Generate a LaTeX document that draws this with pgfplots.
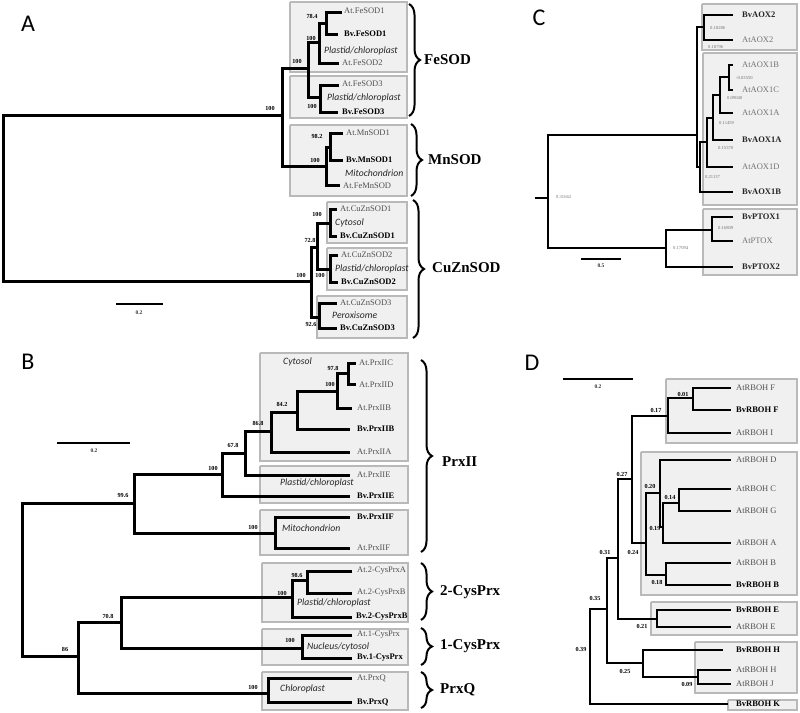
\documentclass[border=0pt]{standalone}
\usepackage{pgfplots}
\pgfplotsset{compat=1.18}
\usepackage{fontspec}
\setmainfont{Liberation Serif}
\newfontfamily\calfont{Carlito}
\usetikzlibrary{decorations.pathreplacing}
\definecolor{boxfill}{RGB}{240,240,240}
\definecolor{boxdraw}{RGB}{185,185,185}
\definecolor{leafgray}{RGB}{80,80,80}
\definecolor{cgray}{RGB}{115,115,115}

\tikzset{
  brA/.style={black, line width=3pt, mark=none},
  brC/.style={black, line width=2.3pt, mark=none},
  brD/.style={black, line width=2.8pt, mark=none},
  boxst/.style={fill=boxfill, draw=boxdraw, line width=1.3pt, mark=none},
  atl/.style={anchor=west, inner sep=0pt, text=leafgray, font=\fontsize{8.5}{9}\selectfont},
  bvl/.style={anchor=west, inner sep=0pt, text=black, font=\fontsize{8.5}{9}\selectfont\bfseries},
  itl/.style={anchor=west, inner sep=0pt, text=black!85, font=\calfont\itshape\fontsize{9.7}{10}\selectfont},
  bsl/.style={inner sep=0pt, text=black, font=\fontsize{6.2}{7}\selectfont\bfseries},
  csl/.style={anchor=west, inner sep=0pt, text=cgray, font=\fontsize{4.6}{5}\selectfont},
  scl/.style={inner sep=0pt, text=black!80, font=\fontsize{5.5}{6}\selectfont\bfseries},
  grp/.style={anchor=west, inner sep=0pt, font=\fontsize{15}{16}\selectfont\bfseries},
  pan/.style={inner sep=0pt, font=\calfont\fontsize{24}{25}\selectfont},
  brc/.style={decorate, decoration={brace, amplitude=11pt}, line width=2pt, black},
}

% one internal node: \nd[style]{x}{y top}{x top child}{y bottom}{x bottom child}
\newcommand{\nd}[6][brA]{\addplot[#1] coordinates {(#4,#3) (#2,#3) (#2,#5) (#6,#5)};}
\newcommand{\bx}[4]{\addplot[boxst] coordinates {(#1,#2) (#3,#2) (#3,#4) (#1,#4) (#1,#2)};}

\begin{document}
\begin{tikzpicture}
\begin{axis}[
  width=800pt, height=712pt, scale only axis,
  xmin=0, xmax=800, ymin=0, ymax=712, y dir=reverse,
  hide axis, clip=false,
]
\path (0,0) rectangle (800,712);

% ---------------- A ----------------
\bx{290}{2}{407}{72}
\bx{290}{76}{407}{118}
\bx{290}{125}{407}{196}
\bx{327}{202}{407}{243}
\bx{327}{248}{407}{290}
\bx{317}{296}{407}{338}

\nd{3}{115}{282}{281}{311}
\nd{282}{68}{308}{166}{326}
\nd{308}{42}{319}{97}{320}
\nd{319}{23}{326}{63}{339}
\nd{326}{12}{342}{34}{338}
\nd{320}{85}{339}{112}{338}
\nd{326}{147}{330}{185}{340}
\nd{330}{133}{343}{160}{343}
\nd{311}{247}{317}{317}{319}
\nd{317}{223}{330}{269}{330}
\nd{330}{209}{337}{236}{337}
\nd{330}{255}{338}{282}{338}
\nd{319}{303}{337}{328}{337}

\node[atl] at (344,11) {At.FeSOD1};
\node[bvl] at (344,34) {Bv.FeSOD1};
\node[atl] at (342,63) {At.FeSOD2};
\node[atl] at (342,84) {At.FeSOD3};
\node[bvl] at (342,112) {Bv.FeSOD3};
\node[atl] at (346,133) {At.MnSOD1};
\node[bvl] at (346,160) {Bv.MnSOD1};
\node[atl] at (343,186) {At.FeMnSOD};
\node[atl] at (340,209) {At.CuZnSOD1};
\node[bvl] at (340,236) {Bv.CuZnSOD1};
\node[atl] at (341,255) {At.CuZnSOD2};
\node[bvl] at (341,282) {Bv.CuZnSOD2};
\node[atl] at (340,303) {At.CuZnSOD3};
\node[bvl] at (340,328) {Bv.CuZnSOD3};

\node[itl] at (324,51) {Plastid/chloroplast};
\node[itl] at (327,98) {Plastid/chloroplast};
\node[itl] at (345,173) {Mitochondrion};
\node[itl] at (335,223) {Cytosol};
\node[itl] at (335,269) {Plastid/chloroplast};
\node[itl] at (332,315) {Peroxisome};

\node[bsl] at (312,16) {78.4};
\node[bsl] at (311,38) {100};
\node[bsl] at (297,61) {100};
\node[bsl] at (270,108) {100};
\node[bsl] at (312,106) {100};
\node[bsl] at (317,136) {98.2};
\node[bsl] at (315,160) {100};
\node[bsl] at (317,214) {100};
\node[bsl] at (310,240) {72.8};
\node[bsl] at (301,275) {100};
\node[bsl] at (320,275) {100};
\node[bsl] at (311,324) {92.6};

\draw[brc] (409,4) -- (409,116);
\node[grp] at (424,60) {FeSOD};
\draw[brc] (411,124) -- (411,196);
\node[grp] at (428,160) {MnSOD};
\draw[brc] (413,200) -- (413,338);
\node[grp] at (432,268) {CuZnSOD};

\addplot[black, line width=2.2pt] coordinates {(116,304) (163,304)};
\node[scl] at (139,313) {0.2};
\node[pan] at (28,24) {A};

% ---------------- B ----------------
\bx{260}{353}{408}{461}
\bx{260}{466}{408}{503}
\bx{260}{510}{408}{555}
\bx{262}{563}{408}{622}
\bx{262}{629}{408}{665}
\bx{262}{672}{408}{710}

\nd{22}{503}{134}{656}{78}
\nd{134}{474}{222}{533}{275}
\nd{222}{453}{245}{496}{350}
\nd{245}{431}{271}{475}{350}
\nd{271}{412}{297}{452}{350}
\nd{297}{391}{337}{429}{350}
\nd{337}{373}{348}{408}{352}
\nd{348}{363}{356}{384}{356}
\nd{275}{517}{350}{548}{350}
\nd{78}{622}{121}{693}{268}
\nd{121}{597}{292}{648}{302}
\nd{292}{580}{307}{617}{352}
\nd{307}{571}{352}{593}{352}
\nd{302}{635}{352}{658}{352}
\nd{268}{678}{352}{702}{352}

\node[atl] at (359,363) {At.PrxIIC};
\node[atl] at (359,385) {At.PrxIID};
\node[atl] at (357,408) {At.PrxIIB};
\node[bvl] at (357,429) {Bv.PrxIIB};
\node[atl] at (357,452) {At.PrxIIA};
\node[atl] at (357,475) {At.PrxIIE};
\node[bvl] at (357,496) {Bv.PrxIIE};
\node[bvl] at (357,517) {Bv.PrxIIF};
\node[atl] at (357,548) {At.PrxIIF};
\node[atl] at (357,571) {At.2-CysPrxA};
\node[atl] at (357,593) {At.2-CysPrxB};
\node[bvl] at (356,617) {Bv.2-CysPrxB};
\node[atl] at (357,635) {At.1-CysPrx};
\node[bvl] at (357,658) {Bv.1-CysPrx};
\node[atl] at (357,678) {At.PrxQ};
\node[bvl] at (357,702) {Bv.PrxQ};

\node[itl] at (283,362) {Cytosol};
\node[itl] at (280,483) {Plastid/chloroplast};
\node[itl] at (282,528) {Mitochondrion};
\node[itl] at (297,603) {Plastid/chloroplast};
\node[itl] at (307,647) {Nucleus/cytosol};
\node[itl] at (280,689) {Chloroplast};

\node[bsl] at (333,368) {97.8};
\node[bsl] at (330,384) {100};
\node[bsl] at (282,404) {84.2};
\node[bsl] at (258,423) {86.8};
\node[bsl] at (233,445) {67.8};
\node[bsl] at (213,468) {100};
\node[bsl] at (123,495) {99.6};
\node[bsl] at (253,527) {100};
\node[bsl] at (65,649) {86};
\node[bsl] at (108,616) {70.8};
\node[bsl] at (297,575) {98.6};
\node[bsl] at (282,593) {100};
\node[bsl] at (290,640) {100};
\node[bsl] at (253,687) {100};

\draw[brc] (421,360) -- (421,552);
\node[grp] at (442,462) {PrxII};
\draw[brc] (421,563) -- (421,620);
\node[grp] at (440,592) {2-CysPrx};
\draw[brc] (421,628) -- (421,665);
\node[grp] at (440,646) {1-CysPrx};
\draw[brc] (421,672) -- (421,708);
\node[grp] at (440,690) {PrxQ};

\addplot[black, line width=2.2pt] coordinates {(57,443) (130,443)};
\node[scl] at (94,451) {0.2};
\node[pan] at (28,362) {B};

% ---------------- C ----------------
\bx{702}{4}{797}{50}
\bx{703}{53}{797}{205}
\bx{703}{209}{797}{275}

\addplot[brC] coordinates {(535,198) (548,198)};
\nd[brC]{548}{135}{697}{248}{666}
\nd[brC]{697}{27}{704}{167}{700}
\nd[brC]{704}{15}{733}{40}{733}
\nd[brC]{700}{142}{707}{192}{733}
\nd[brC]{707}{118}{713}{167}{733}
\nd[brC]{713}{95}{720}{140}{733}
\nd[brC]{720}{77}{729}{113}{733}
\nd[brC]{729}{65}{733}{90}{733}
\nd[brC]{666}{230}{712}{267}{733}
\nd[brC]{712}{217}{733}{241}{733}

\node[bvl, text=black!85] at (742,15) {BvAOX2};
\node[atl, text=cgray] at (742,40) {AtAOX2};
\node[atl, text=cgray] at (742,65) {AtAOX1B};
\node[atl, text=cgray] at (742,90) {AtAOX1C};
\node[atl, text=cgray] at (742,113) {AtAOX1A};
\node[bvl, text=black!85] at (742,140) {BvAOX1A};
\node[atl, text=cgray] at (742,167) {AtAOX1D};
\node[bvl, text=black!85] at (742,192) {BvAOX1B};
\node[bvl, text=black!85] at (742,217) {BvPTOX1};
\node[atl, text=cgray] at (742,241) {AtPTOX};
\node[bvl, text=black!85] at (742,267) {BvPTOX2};

\node[csl] at (710,28) {0.18286};
\node[csl] at (708,47) {0.18796};
\node[csl] at (736,78) {-0.03550};
\node[csl] at (727,98) {0.09040};
\node[csl] at (719,123) {0.11459};
\node[csl] at (718,148) {0.15370};
\node[csl] at (705,177) {0.21137};
\node[csl] at (556,197) {0.31662};
\node[csl] at (673,248) {0.17094};
\node[csl] at (718,228) {0.16809};

\addplot[black, line width=2pt] coordinates {(581,259) (621,259)};
\node[scl] at (601,266) {0.5};
\node[pan] at (539,18) {C};

% ---------------- D ----------------
\bx{666}{379}{797}{443}
\bx{641}{452}{797}{595}
\bx{651}{602}{797}{635}
\bx{695}{642}{797}{693}
\bx{728}{700}{797}{710}

\nd[brD]{590}{609}{607}{704}{728}
\nd[brD]{607}{558}{618}{663}{643}
\nd[brD]{618}{479}{632}{619}{657}
\nd[brD]{632}{416}{668}{543}{646}
\nd[brD]{668}{398}{693}{433}{731}
\nd[brD]{693}{388}{731}{410}{731}
\nd[brD]{646}{493}{660}{575}{666}
\nd[brD]{660}{460}{731}{527}{663}
\nd[brD]{663}{503}{679}{543}{731}
\nd[brD]{679}{489}{731}{511}{731}
\nd[brD]{666}{563}{731}{585}{731}
\nd[brD]{657}{610}{731}{627}{731}
\nd[brD]{643}{650}{723}{677}{698}
\nd[brD]{698}{670}{731}{684}{731}

\node[atl] at (736,388) {AtRBOH F};
\node[bvl] at (736,410) {BvRBOH F};
\node[atl] at (736,433) {AtRBOH I};
\node[atl] at (736,460) {AtRBOH D};
\node[atl] at (736,489) {AtRBOH C};
\node[atl] at (736,511) {AtRBOH G};
\node[atl] at (736,543) {AtRBOH A};
\node[atl] at (736,563) {AtRBOH B};
\node[bvl] at (736,585) {BvRBOH B};
\node[bvl] at (736,610) {BvRBOH E};
\node[atl] at (736,627) {AtRBOH E};
\node[bvl] at (736,650) {BvRBOH H};
\node[atl] at (736,670) {AtRBOH H};
\node[atl] at (736,684) {AtRBOH J};
\node[bvl] at (736,704) {BvRBOH K};

\node[bsl] at (683,394) {0.01};
\node[bsl] at (656,410) {0.17};
\node[bsl] at (622,474) {0.27};
\node[bsl] at (650,486) {0.20};
\node[bsl] at (670,497) {0.14};
\node[bsl] at (655,528) {0.19};
\node[bsl] at (633,552) {0.24};
\node[bsl] at (657,582) {0.18};
\node[bsl] at (605,552) {0.31};
\node[bsl] at (642,626) {0.21};
\node[bsl] at (595,598) {0.35};
\node[bsl] at (625,671) {0.25};
\node[bsl] at (687,684) {0.09};
\node[bsl] at (581,649) {0.39};

\addplot[black, line width=2.4pt] coordinates {(563,379) (633,379)};
\node[scl] at (598,387) {0.2};
\node[pan] at (532,363) {D};

\end{axis}
\end{tikzpicture}
\end{document}
